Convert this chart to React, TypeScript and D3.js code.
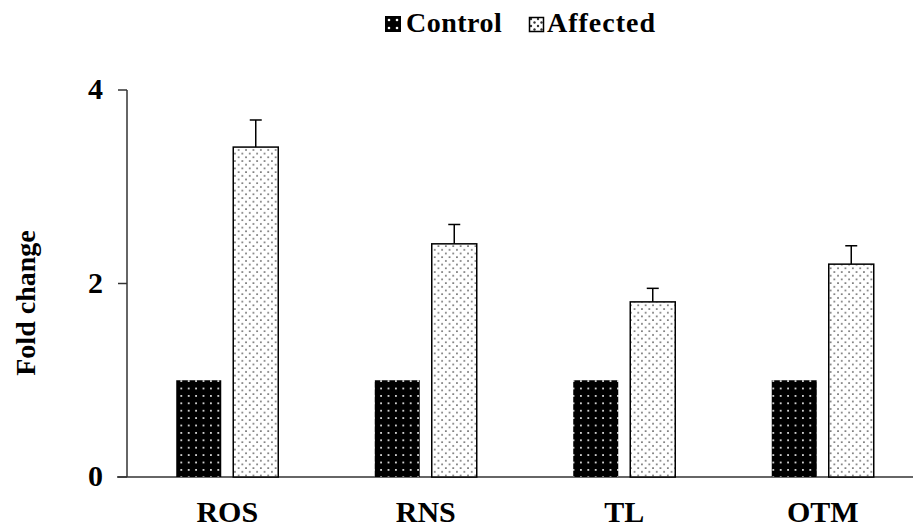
import { useEffect, useRef } from 'react';
import * as d3 from 'd3';

const categories = ['ROS', 'RNS', 'TL', 'OTM'];
const controlValues = [1, 1, 1, 1];
const affectedValues = [3.41, 2.41, 1.81, 2.2];
const affectedErrors = [0.28, 0.2, 0.14, 0.19];
const yTicks = [0, 2, 4];

const FONT = '"Liberation Serif", "Times New Roman", serif';

const App = () => {
  const svgRef = useRef<SVGSVGElement>(null);

  useEffect(() => {
    const svg = d3.select(svgRef.current);
    svg.selectAll('*').remove();

    const W = 913;
    const H = 527;

    // patterns
    const defs = svg.append('defs');
    const pc = defs.append('pattern')
      .attr('id', 'ctrlPat')
      .attr('patternUnits', 'userSpaceOnUse')
      .attr('width', 7.4).attr('height', 7.4);
    pc.append('rect').attr('width', 7.4).attr('height', 7.4).attr('fill', '#000');
    pc.append('circle').attr('cx', 3.7).attr('cy', 3.7).attr('r', 1).attr('fill', '#fff');

    const pa = defs.append('pattern')
      .attr('id', 'affPat')
      .attr('patternUnits', 'userSpaceOnUse')
      .attr('width', 7.4).attr('height', 7.4);
    pa.append('rect').attr('width', 7.4).attr('height', 7.4).attr('fill', '#fff');
    pa.append('circle').attr('cx', 1.85).attr('cy', 1.85).attr('r', 0.8).attr('fill', '#222');
    pa.append('circle').attr('cx', 5.55).attr('cy', 5.55).attr('r', 0.8).attr('fill', '#222');

    // bigger patterns for the legend swatches
    const lc = defs.append('pattern')
      .attr('id', 'ctrlLeg')
      .attr('patternUnits', 'userSpaceOnUse')
      .attr('x', 385).attr('y', 16)
      .attr('width', 8).attr('height', 8);
    lc.append('rect').attr('width', 8).attr('height', 8).attr('fill', '#000');
    lc.append('circle').attr('cx', 4).attr('cy', 4).attr('r', 1.3).attr('fill', '#fff');

    const la = defs.append('pattern')
      .attr('id', 'affLeg')
      .attr('patternUnits', 'userSpaceOnUse')
      .attr('x', 529).attr('y', 17)
      .attr('width', 7).attr('height', 7);
    la.append('rect').attr('width', 7).attr('height', 7).attr('fill', '#fff');
    la.append('circle').attr('cx', 2).attr('cy', 2).attr('r', 1.2).attr('fill', '#333');
    la.append('circle').attr('cx', 5.5).attr('cy', 5.5).attr('r', 1.2).attr('fill', '#333');

    const x0 = d3.scaleBand().domain(categories).range([128, 922]);
    const y = d3.scaleLinear().domain([0, 4]).range([477, 90]);
    const barW = 45;
    const gap = 12;

    const g = svg.append('g');

    // axes
    g.append('line')
      .attr('x1', 117).attr('x2', W)
      .attr('y1', y(0)).attr('y2', y(0))
      .attr('stroke', '#333').attr('stroke-width', 1.5);
    g.append('line')
      .attr('x1', 127).attr('x2', 127)
      .attr('y1', y(4)).attr('y2', y(0))
      .attr('stroke', '#333').attr('stroke-width', 1.5);
    yTicks.forEach(t => {
      g.append('line')
        .attr('x1', 118).attr('x2', 127)
        .attr('y1', y(t)).attr('y2', y(t))
        .attr('stroke', '#333').attr('stroke-width', 1.5);
      g.append('text')
        .attr('x', 103).attr('y', y(t) + 9)
        .attr('text-anchor', 'end')
        .attr('font-family', FONT).attr('font-weight', 'bold').attr('font-size', 30)
        .text(t);
    });

    categories.forEach((c, i) => {
      const cx = x0(c)! + x0.bandwidth() / 2;
      const xc = cx - gap / 2 - barW;
      const xa = cx + gap / 2;

      g.append('rect')
        .attr('x', xc).attr('y', y(controlValues[i]))
        .attr('width', barW).attr('height', y(0) - y(controlValues[i]))
        .attr('fill', 'url(#ctrlPat)');

      // error bar
      g.append('line')
        .attr('x1', xa + barW / 2).attr('x2', xa + barW / 2)
        .attr('y1', y(affectedValues[i])).attr('y2', y(affectedValues[i] + affectedErrors[i]))
        .attr('stroke', '#000').attr('stroke-width', 1.5);
      g.append('line')
        .attr('x1', xa + barW / 2 - 6).attr('x2', xa + barW / 2 + 6)
        .attr('y1', y(affectedValues[i] + affectedErrors[i]))
        .attr('y2', y(affectedValues[i] + affectedErrors[i]))
        .attr('stroke', '#000').attr('stroke-width', 1.5);

      g.append('rect')
        .attr('x', xa).attr('y', y(affectedValues[i]))
        .attr('width', barW).attr('height', y(0) - y(affectedValues[i]))
        .attr('fill', 'url(#affPat)')
        .attr('stroke', '#000').attr('stroke-width', 1.5);

      g.append('text')
        .attr('x', cx).attr('y', 522)
        .attr('text-anchor', 'middle')
        .attr('font-family', FONT).attr('font-weight', 'bold').attr('font-size', 30)
        .text(c);
    });

    // y label
    g.append('text')
      .attr('transform', `translate(35,${303}) rotate(-90)`)
      .attr('text-anchor', 'middle')
      .attr('font-family', FONT).attr('font-weight', 'bold').attr('font-size', 28)
      .text('Fold change');

    // legend
    const leg = svg.append('g');
    leg.append('rect')
      .attr('x', 385).attr('y', 16).attr('width', 16).attr('height', 16)
      .attr('fill', 'url(#ctrlLeg)');
    leg.append('text')
      .attr('x', 406).attr('y', 32)
      .attr('font-family', FONT).attr('font-weight', 'bold').attr('font-size', 28)
      .attr('letter-spacing', 0.5)
      .text('Control');
    leg.append('rect')
      .attr('x', 529.5).attr('y', 17.5).attr('width', 14).attr('height', 14)
      .attr('fill', 'url(#affLeg)')
      .attr('stroke', '#000').attr('stroke-width', 1.5);
    leg.append('text')
      .attr('x', 547).attr('y', 32)
      .attr('font-family', FONT).attr('font-weight', 'bold').attr('font-size', 28)
      .attr('letter-spacing', 1)
      .text('Affected');

    svg.attr('width', W).attr('height', H);
  }, []);

  return (
    <svg
      ref={svgRef}
      width={913}
      height={527}
      style={{ position: 'absolute', left: 0, top: 0, background: '#fff' }}
    />
  );
};

export default App;
